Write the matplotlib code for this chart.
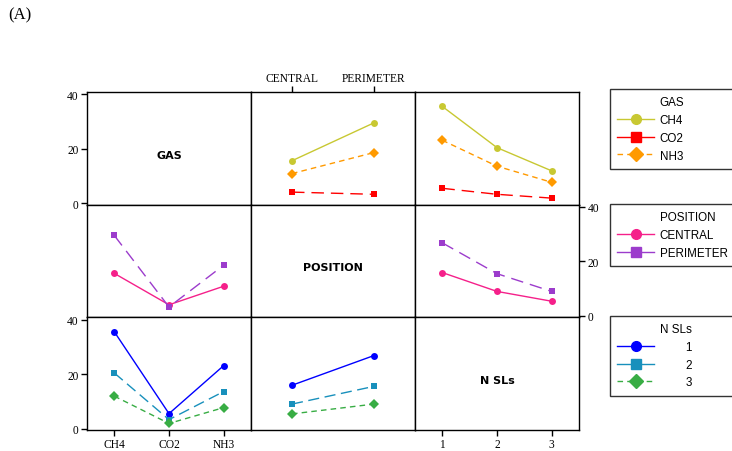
import matplotlib
matplotlib.use("Agg")
import matplotlib.pyplot as plt
from matplotlib.lines import Line2D

# factor levels
gas = ['CH4', 'CO2', 'NH3']
position = ['CENTRAL', 'PERIMETER']
nsl = ['1', '2', '3']

# cell means: rows of each table follow the first factor
gas_by_position = {'CH4': [15.6, 29.5], 'CO2': [4.1, 3.3], 'NH3': [10.9, 18.6]}
gas_by_nsl = {'CH4': [35.5, 20.4, 11.9], 'CO2': [5.5, 3.3, 1.9], 'NH3': [23.1, 13.6, 7.7]}
position_by_nsl = {'CENTRAL': [15.9, 9.0, 5.4], 'PERIMETER': [26.8, 15.5, 9.0]}

# styles per trace level
sty = {
    'CH4': dict(color='#c8c832', marker='o', ls='-'),
    'CO2': dict(color='#ff0000', marker='s', ls=(0, (9, 5))),
    'NH3': dict(color='#ff9a00', marker='D', ls=(0, (4, 3))),
    'CENTRAL': dict(color='#f5208a', marker='o', ls='-'),
    'PERIMETER': dict(color='#9c3ccc', marker='s', ls=(0, (9, 5))),
    '1': dict(color='#0000ff', marker='o', ls='-'),
    '2': dict(color='#1890bc', marker='s', ls=(0, (8, 4))),
    '3': dict(color='#38ad44', marker='D', ls=(0, (4, 3))),
}

tick_font = {'family': 'Liberation Serif', 'size': 8.3}

fig, axes = plt.subplots(3, 3, figsize=(7.32, 4.52), dpi=100)
fig.subplots_adjust(left=87/732, right=579/732, top=1-93/452, bottom=1-431/452,
                    wspace=0, hspace=0)

for ax in axes.flat:
    ax.set_ylim(-0.5, 40.8)
    ax.set_yticks([])
    ax.set_xticks([])
    for s in ax.spines.values():
        s.set_linewidth(1.0)


def draw(ax, levels, table, xs):
    pos = list(range(len(xs)))
    for lv in levels:
        st = sty[lv]
        ax.plot(pos, table[lv], color=st['color'], marker=st['marker'], ls=st['ls'],
                lw=1.0, ms=5 if st['marker'] != 'D' else 5.5, markeredgewidth=0)
    ax.set_xlim(-0.5, len(xs) - 0.5)


def transpose(table, rows, cols):
    return {c: [table[r][k] for r in rows] for k, c in enumerate(cols)}


# row 0: GAS traces
draw(axes[0, 1], gas, gas_by_position, position)
draw(axes[0, 2], gas, gas_by_nsl, nsl)
# row 1: POSITION traces
draw(axes[1, 0], position, transpose(gas_by_position, gas, position), gas)
draw(axes[1, 2], position, position_by_nsl, nsl)
# row 2: N SLs traces
draw(axes[2, 0], nsl, transpose(gas_by_nsl, gas, nsl), gas)
draw(axes[2, 1], nsl, transpose(position_by_nsl, position, nsl), position)

# diagonal labels
for k, name in enumerate(['GAS', 'POSITION', 'N SLs']):
    ax = axes[k, k]
    ax.set_xlim(0, 1)
    ax.text(0.5, 0.445, name, transform=ax.transAxes, ha='center', va='center',
            fontsize=8, fontweight='bold', family='DejaVu Sans')

yt = [0, 20, 40]
for ax in (axes[0, 0], axes[2, 0]):
    ax.set_yticks(yt)
    ax.set_yticklabels([str(v) for v in yt], fontdict=tick_font)
axes[1, 2].yaxis.tick_right()
axes[1, 2].set_yticks(yt)
axes[1, 2].set_yticklabels([str(v) for v in yt], fontdict=tick_font)

axes[0, 1].xaxis.tick_top()
axes[0, 1].set_xticks(range(len(position)))
axes[0, 1].set_xticklabels(position, fontdict=tick_font)
axes[2, 0].set_xticks(range(len(gas)))
axes[2, 0].set_xticklabels(gas, fontdict=tick_font)
axes[2, 2].set_xticks(range(len(nsl)))
axes[2, 2].set_xlim(-0.5, 2.5)
axes[2, 2].set_xticklabels(nsl, fontdict=tick_font)

for ax in axes.flat:
    ax.tick_params(direction='out', length=4, width=1, pad=2)

# legends, one per factor; the factor name sits in the label column
legend_boxes = [(gas, 'GAS', 1-90/452, 0), (position, 'POSITION', 1-205/452, 0),
                (nsl, 'N SLs', 1-317/452, 8)]
for levels, title, ytop, indent in legend_boxes:
    handles = [Line2D([], [], ls='none')]
    labels = [title]
    for lv in levels:
        st = sty[lv]
        ls = '-' if st['marker'] != 'D' else st['ls']
        handles.append(Line2D([], [], color=st['color'], marker=st['marker'], ls=ls,
                              lw=1.0, ms=7))
        labels.append(' ' * indent + lv)
    leg = fig.legend(handles, labels, loc='upper left', mode='expand',
                     bbox_to_anchor=(610/732, ytop - 0.2, 145/732, 0.2),
                     bbox_transform=fig.transFigure,
                     prop={'family': 'Liberation Sans', 'size': 8.4},
                     frameon=True, fancybox=False, edgecolor='black',
                     handlelength=3.2, handletextpad=0.45, borderpad=0.6,
                     labelspacing=0.5, borderaxespad=0)
    leg.get_frame().set_linewidth(1.0)

fig.text(8/732, 1-15/452, '(A)', family='Liberation Serif', fontsize=12,
         ha='left', va='center')

fig.savefig('out.png', dpi=100)
